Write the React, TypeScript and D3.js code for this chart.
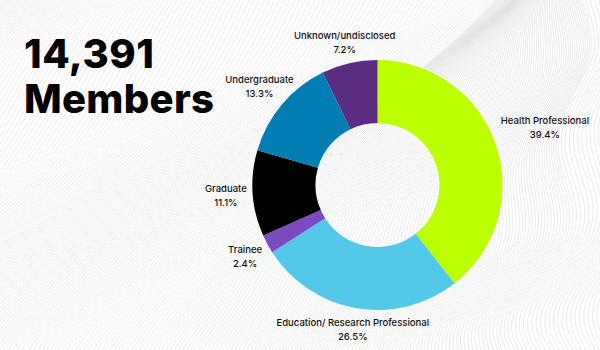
import React from "react";
import * as d3 from "d3";

const categories = [
  "Health Professional",
  "Education/ Research Professional",
  "Trainee",
  "Graduate",
  "Undergraduate",
  "Unknown/undisclosed",
];
const values = [39.4, 26.5, 2.4, 11.1, 13.3, 7.2];
const colors = ["#BBFF00", "#54C8E8", "#7B4BBF", "#000000", "#007DB3", "#5A2D82"];
const titleLines = ["14,391", "Members"];

const W = 600;
const H = 350;
const cx = 377.5;
const cy = 185;
const R = 125;
const r0 = 62;
const FONT = "Inter, 'Noto Sans', sans-serif";
const labelSize = 9.5;
const lineGap = 14;

function measure(text: string, size: number, weight: number) {
  const c = document.createElement("canvas").getContext("2d")!;
  c.font = `${weight} ${size}px Inter`;
  return c.measureText(text).width;
}

function Background() {
  const paths: string[] = [];
  const line = d3.line<[number, number]>().curve(d3.curveBasis);
  for (let x0 = -420; x0 <= 640; x0 += 4) {
    const k = Math.max(0, Math.min(1, (x0 - 150) / 400));
    const slope = 0.9 - 0.8 * k;
    const pts: [number, number][] = [];
    for (let y = -10; y <= H + 10; y += 6) {
      const t = (H - y) / H;
      const wave =
        (1 - k) * 30 * Math.sin(y / 70 + x0 / 110) * (0.3 + 0.7 * t) +
        k * 12 * Math.sin(y / 28 + x0 / 90) -
        k * 25 * Math.exp(-((y - 330) ** 2) / 3000);
      const x = x0 + (H - y) * slope + wave;
      pts.push([x, y]);
    }
    paths.push(line(pts) as string);
  }
  return (
    <g>
      {paths.map((d, i) => (
        <path key={i} d={d} fill="none" stroke="#e2e2e2" strokeWidth={0.7} />
      ))}
    </g>
  );
}

export default function App() {
  const pie = d3.pie<number>().sort(null).value((d) => d)(values);
  const arc = d3.arc<d3.PieArcDatum<number>>().innerRadius(r0).outerRadius(R);
  const offset = 6;

  return (
    <svg
      width={W}
      height={H}
      style={{ position: "fixed", left: 0, top: 0, background: "#fff" }}
      fontFamily={FONT}
    >
      <rect width={W} height={H} fill="#fff" />
      <Background />
      <text x={24} y={68} fontSize={40} fontWeight={800} fill="#000" letterSpacing={0.5}>
        {titleLines[0]}
      </text>
      <text x={24} y={113} fontSize={40} fontWeight={800} fill="#000" letterSpacing={0.3}>
        {titleLines[1]}
      </text>
      <g transform={`translate(${cx},${cy})`}>
        {pie.map((p, i) => (
          <path key={i} d={arc(p) as string} fill={colors[i]} />
        ))}
        {pie.map((p, i) => {
          const a = (p.startAngle + p.endAngle) / 2;
          const vx = Math.sin(a);
          const vy = -Math.cos(a);
          const pct = `${values[i].toFixed(1)}%`;
          const w = Math.max(measure(categories[i], labelSize, 500), measure(pct, labelSize, 500));
          const h = 30;
          const t = Math.min(
            Math.abs(vx) > 1e-6 ? w / 2 / Math.abs(vx) : Infinity,
            Math.abs(vy) > 1e-6 ? h / 2 / Math.abs(vy) : Infinity
          );
          const d = R + offset + t;
          const x = vx * d;
          const y = vy * d;
          return (
            <g key={"l" + i} fontSize={labelSize} fontWeight={500} fill="#111" textAnchor="middle">
              <text x={x} y={y - 3}>{categories[i]}</text>
              <text x={x} y={y - 3 + lineGap}>{pct}</text>
            </g>
          );
        })}
      </g>
    </svg>
  );
}
